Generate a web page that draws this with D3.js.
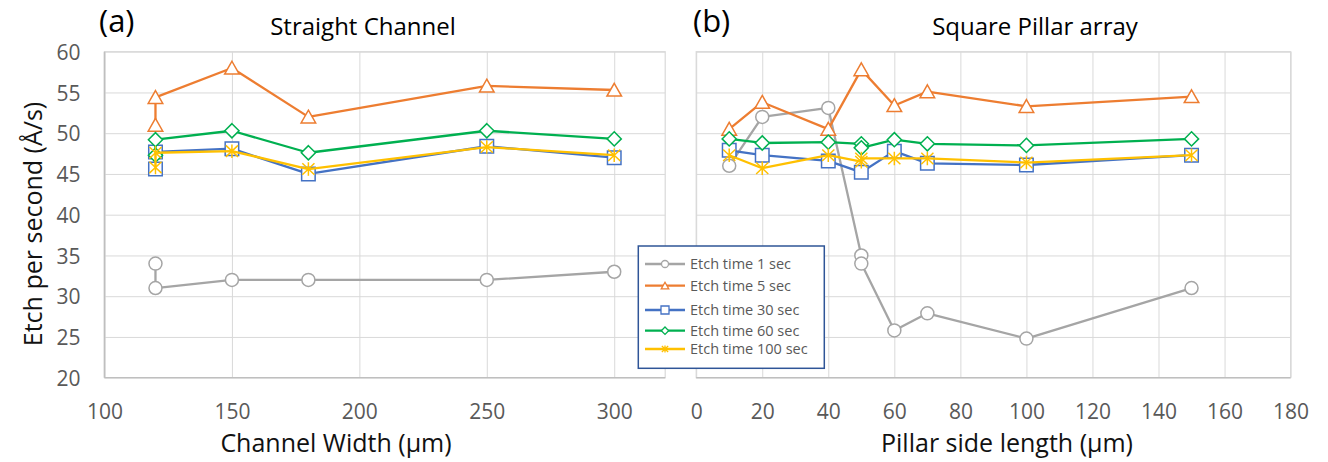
<!DOCTYPE html>
<html><head><meta charset="utf-8">
<script src="https://cdn.jsdelivr.net/npm/d3@7"></script>
<style>
body{margin:0;background:#fff;}
svg{display:block;}
text{font-family:"Open Sans","Noto Sans",sans-serif;}
</style>
</head><body>
<svg id="c" width="1328" height="462"></svg>
<script>
// ---------- data ----------
const seriesNames   = ["Etch time 1 sec","Etch time 5 sec","Etch time 30 sec","Etch time 60 sec","Etch time 100 sec"];
const seriesColors  = ["#A5A5A5","#ED7D31","#4472C4","#00B050","#FFC000"];
const seriesMarkers = ["circle","triangle","square","diamond","star"];

// (a) Straight Channel
const channelWidth = [120,120,150,180,250,300];
const ch1   = [34.0,31.0,32.0,32.0,32.0,33.0];
const ch5   = [51.0,54.4,58.0,52.0,55.8,55.3];
const ch30  = [45.6,47.7,48.1,45.0,48.4,47.0];
const ch60  = [47.3,49.2,50.3,47.6,50.3,49.3];
const ch100 = [45.8,47.6,47.8,45.6,48.3,47.3];

// (b) Square Pillar array
const pillarX9 = [10,20,40,50,50,60,70,100,150];
const pillarX8 = [10,20,40,50,60,70,100,150];
const pl1   = [46.0,52.0,53.1,35.0,34.0,25.8,27.9,24.8,31.0];
const pl5   = [50.5,53.8,50.5,57.8,53.4,55.1,53.3,54.5];
const pl30  = [47.9,47.3,46.6,45.2,47.8,46.3,46.1,47.3];
const pl60  = [49.3,48.8,48.9,48.7,48.2,49.2,48.7,48.5,49.3];
const pl100 = [47.3,45.7,47.3,46.5,46.9,46.9,46.9,46.4,47.3];

const yTicks      = [20,25,30,35,40,45,50,55,60];
const channelTicks = [100,150,200,250,300];
const pillarTicks  = [0,20,40,60,80,100,120,140,160,180];

const leftSeries  = [ch1,ch5,ch30,ch60,ch100].map(v => ({x: channelWidth, y: v}));
const rightSeries = [
  {x: pillarX9, y: pl1},
  {x: pillarX8, y: pl5},
  {x: pillarX8, y: pl30},
  {x: pillarX9, y: pl60},
  {x: pillarX9, y: pl100}
];

// ---------- layout ----------
const svg = d3.select("#c");
const yTop = 51.7, yBot = 377.7;
const y = d3.scaleLinear().domain([20,60]).range([yBot, yTop]);
const xL = d3.scaleLinear().domain([100,320]).range([104.5, 665.2]);
const xR = d3.scaleLinear().domain([0,180]).range([696.2, 1290.6]);

const gridColor = "#D9D9D9", axisColor = "#BFBFBF", tickColor = "#595959";

function markerPath(type, s) {
  const h = s/2;
  switch(type) {
    case "triangle": return `M0,${-h}L${h*1.08},${h*0.9}L${-h*1.08},${h*0.9}Z`;
    case "square":   return `M${-h},${-h}H${h}V${h}H${-h}Z`;
    case "diamond":  return `M0,${-h*1.05}L${h*1.05},0L0,${h*1.05}L${-h*1.05},0Z`;
    case "star":     return `M0,${-h}V${h}M${-h*0.9},${-h*0.85}L${h*0.9},${h*0.85}M${-h*0.9},${h*0.85}L${h*0.9},${-h*0.85}`;
  }
}
function drawMarker(g, type, color, cx, cy, s, sw) {
  if (type === "circle") {
    g.append("circle").attr("cx",cx).attr("cy",cy).attr("r",s/2)
      .attr("fill","#fff").attr("stroke",color).attr("stroke-width",sw);
  } else {
    g.append("path").attr("d", markerPath(type,s))
      .attr("transform",`translate(${cx},${cy})`)
      .attr("fill", type==="star" ? "none" : "#fff")
      .attr("stroke",color).attr("stroke-width",sw);
  }
}

function panel(x, ticks, series, showY) {
  const g = svg.append("g");
  const [x0,x1] = x.range();
  g.append("g").attr("transform",`translate(${x0},0)`)
    .call(d3.axisLeft(y).tickValues(yTicks.filter(t=>t>20)).tickSize(-(x1-x0)).tickFormat(""))
    .call(a=>a.select(".domain").remove())
    .call(a=>a.selectAll("line").attr("stroke",gridColor).attr("stroke-width",1));
  g.append("g").attr("transform",`translate(0,${yBot})`)
    .call(d3.axisBottom(x).tickValues(ticks).tickSize(-(yBot-yTop)).tickFormat(""))
    .call(a=>a.select(".domain").remove())
    .call(a=>a.selectAll("line").attr("stroke",gridColor).attr("stroke-width",1));
  g.append("rect").attr("x",x0).attr("y",yTop).attr("width",x1-x0).attr("height",yBot-yTop)
    .attr("fill","none").attr("stroke",gridColor).attr("stroke-width",1.2);
  g.append("line").attr("x1",x0).attr("x2",x1).attr("y1",yBot).attr("y2",yBot)
    .attr("stroke",axisColor).attr("stroke-width",1.6);
  if (showY) {
    g.append("line").attr("x1",x0).attr("x2",x0).attr("y1",yTop).attr("y2",yBot)
      .attr("stroke",axisColor).attr("stroke-width",1.6);
    g.append("g").attr("transform",`translate(${x0-24},0)`)
      .call(d3.axisLeft(y).tickValues(yTicks).tickSize(0).tickPadding(0))
      .call(a=>a.select(".domain").remove())
      .call(a=>a.selectAll("text").attr("fill",tickColor).style("font-size","21px")
          .style("font-family",'"Open Sans",sans-serif').attr("dy","0.36em"));
  }
  g.append("g").attr("transform",`translate(0,${yBot})`)
    .call(d3.axisBottom(x).tickValues(ticks).tickSize(0).tickPadding(0))
    .call(a=>a.select(".domain").remove())
    .call(a=>a.selectAll("text").attr("fill",tickColor).style("font-size","21px")
        .style("font-family",'"Open Sans",sans-serif').attr("dy",null).attr("y",41));
  const line = d3.line().x(d=>x(d[0])).y(d=>y(d[1]));
  series.forEach((s,i)=>{
    const pts = s.x.map((xv,j)=>[xv, s.y[j]]);
    const sg = g.append("g");
    sg.append("path").attr("d",line(pts)).attr("fill","none")
      .attr("stroke",seriesColors[i]).attr("stroke-width",2.3).attr("stroke-linejoin","round");
    pts.forEach(p=>drawMarker(sg, seriesMarkers[i], seriesColors[i], x(p[0]), y(p[1]),
        seriesMarkers[i]==="circle"?13:13.5, 1.5));
  });
  return g;
}

panel(xL, channelTicks, leftSeries, true);
panel(xR, pillarTicks, rightSeries, false);

// titles
svg.append("text").attr("x",99).attr("y",32).text("(a)").style("font-size","31px").attr("fill","#000");
svg.append("text").attr("x",693).attr("y",32).text("(b)").style("font-size","31px").attr("fill","#000");
svg.append("text").attr("x",363).attr("y",35).attr("text-anchor","middle").text("Straight Channel")
  .style("font-size","24px").attr("fill","#000");
svg.append("text").attr("x",1035).attr("y",35).attr("text-anchor","middle").text("Square Pillar array")
  .style("font-size","24px").attr("fill","#000");
// axis titles
svg.append("text").attr("x",336).attr("y",452).attr("text-anchor","middle").text("Channel Width (µm)")
  .style("font-size","25px").attr("fill","#111");
svg.append("text").attr("x",1007).attr("y",452).attr("text-anchor","middle").text("Pillar side length (µm)")
  .style("font-size","25px").attr("fill","#111");
svg.append("text").attr("transform","translate(42,224) rotate(-90)").attr("text-anchor","middle")
  .text("Etch per second (Å/s)").style("font-size","25px").attr("fill","#111");

// legend
const lg = svg.append("g");
lg.append("rect").attr("x",638.3).attr("y",246).attr("width",186).attr("height",122.3)
  .attr("fill","#fff").attr("stroke","#2F5597").attr("stroke-width",1.5);
const legendY = [264, 285.7, 310, 330.7, 349];
seriesNames.forEach((n,i)=>{
  const yy = legendY[i];
  lg.append("line").attr("x1",645).attr("x2",685).attr("y1",yy).attr("y2",yy)
    .attr("stroke",seriesColors[i]).attr("stroke-width",2.3);
  drawMarker(lg, seriesMarkers[i], seriesColors[i], 665, yy, seriesMarkers[i]==="square"?8:7, 1.3);
  lg.append("text").attr("x",690).attr("y",yy+5).text(n).style("font-size","14.5px").attr("fill","#595959");
});
</script>
</body></html>
